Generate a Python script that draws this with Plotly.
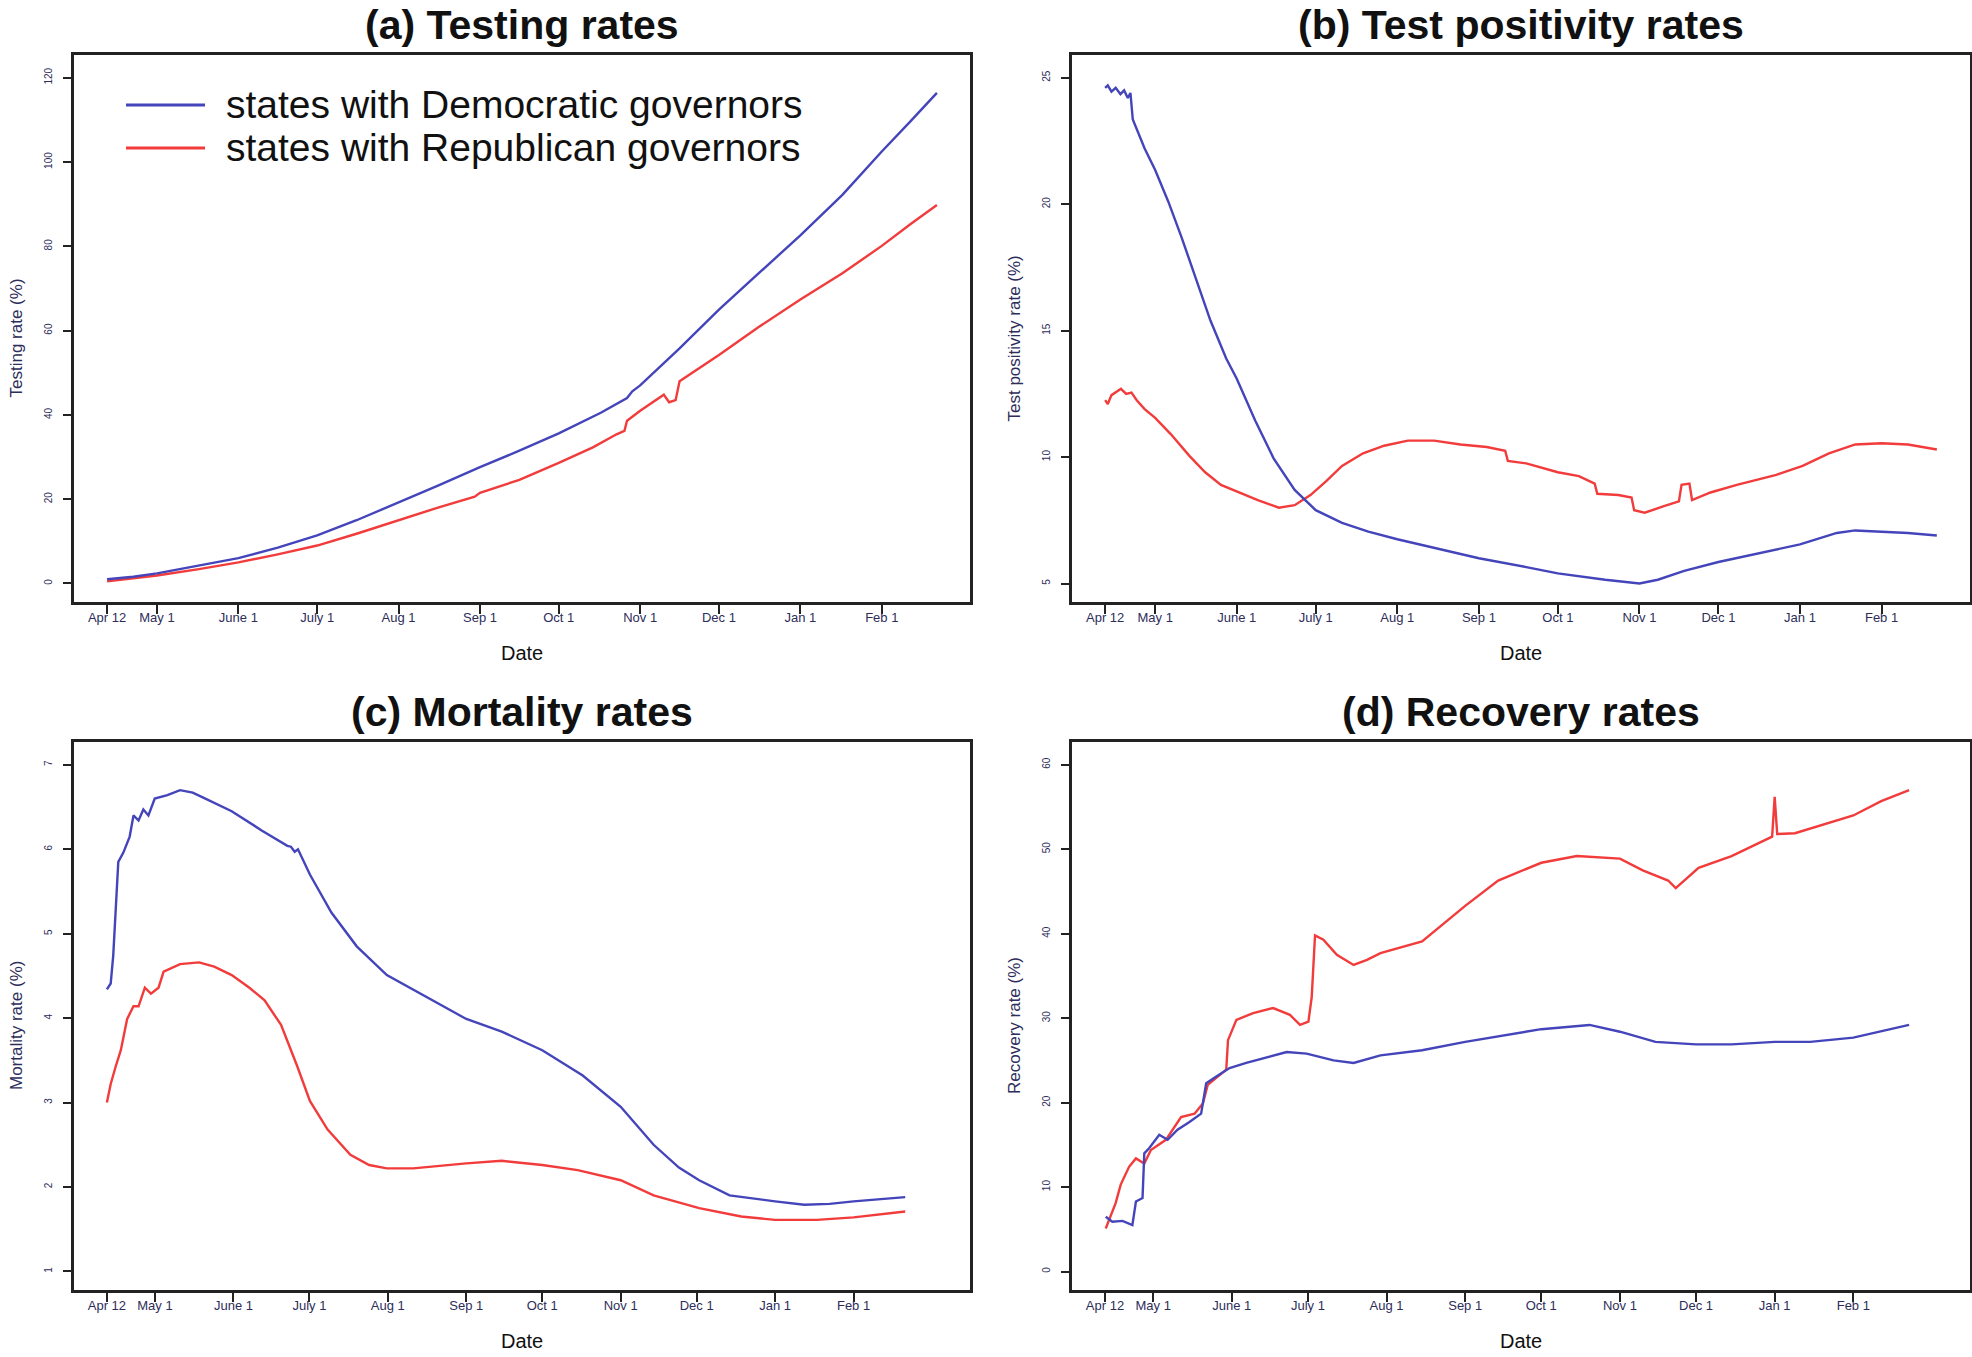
import pandas as pd
import plotly.graph_objects as go

BASE = pd.Timestamp("2020-04-12")

tick_dates = ["2020-04-12", "2020-05-01", "2020-06-01", "2020-07-01", "2020-08-01",
              "2020-09-01", "2020-10-01", "2020-11-01", "2020-12-01", "2021-01-01", "2021-02-01"]
tick_text = ["Apr 12", "May 1", "June 1", "July 1", "Aug 1", "Sep 1", "Oct 1",
             "Nov 1", "Dec 1", "Jan 1", "Feb 1"]

# ---- (a) Testing rate (%) : days since Apr 12, 2020 ----
a_dem_day = [0, 10, 19, 35, 50, 65, 80, 95, 111, 126, 142, 157, 172, 188, 198, 200, 203,
             218, 233, 248, 264, 280, 295, 306, 316]
a_dem_val = [1.0, 1.6, 2.4, 4.2, 6.0, 8.5, 11.4, 15.0, 19.2, 23.2, 27.6, 31.5, 35.6, 40.5,
             44.0, 45.6, 47.0, 55.8, 65.0, 73.5, 82.6, 92.2, 102.5, 109.7, 116.4]
a_rep_day = [0, 10, 19, 35, 50, 65, 80, 95, 111, 126, 140, 142, 157, 172, 185, 194, 197, 198,
             203, 212, 214, 216.5, 218, 224, 233, 248, 264, 280, 295, 306, 316]
a_rep_val = [0.5, 1.2, 1.9, 3.4, 5.0, 6.9, 9.0, 11.8, 15.0, 18.0, 20.6, 21.5, 24.6, 28.6,
             32.3, 35.4, 36.2, 38.6, 41.0, 44.8, 43.0, 43.5, 48.0, 50.5, 54.2, 60.8, 67.4,
             73.6, 80.1, 85.3, 89.8]
a_yticks = [0, 20, 40, 60, 80, 100, 120]

# ---- (b) Test positivity rate (%) ----
b_dem_day = [0, 1, 2.4, 4, 5.8, 7.2, 8.6, 9.6, 10.5, 12.5, 15, 19, 24, 29, 34, 40, 46, 50,
             57, 64, 72, 80, 90, 100, 111, 125, 142, 160, 172, 190, 203, 210, 220, 233,
             250, 264, 278, 285, 295, 305, 316]
b_dem_val = [24.6, 24.7, 24.45, 24.6, 24.35, 24.5, 24.2, 24.4, 23.35, 22.85, 22.2, 21.35,
             20.1, 18.7, 17.2, 15.4, 13.9, 13.1, 11.45, 9.95, 8.7, 7.9, 7.4, 7.05, 6.75, 6.4,
             6.0, 5.65, 5.4, 5.15, 5.0, 5.15, 5.5, 5.85, 6.25, 6.55, 7.0, 7.1, 7.05, 7.0, 6.9]
b_rep_day = [0, 1, 2.4, 4, 6, 8, 10, 12, 15, 19, 25, 32, 38, 44, 50, 58, 66, 72, 78, 84, 90,
             98, 106, 115, 125, 135, 145, 152, 153, 160, 172, 180, 186, 187, 195, 200, 201,
             205, 212, 218, 219, 222, 223, 230, 240, 255, 265, 275, 285, 295, 305, 316]
b_rep_val = [12.25, 12.1, 12.45, 12.55, 12.7, 12.5, 12.55, 12.25, 11.9, 11.55, 10.9, 10.05,
             9.4, 8.9, 8.65, 8.3, 8.0, 8.1, 8.5, 9.05, 9.65, 10.15, 10.45, 10.65, 10.65,
             10.5, 10.4, 10.25, 9.85, 9.75, 9.4, 9.25, 8.95, 8.55, 8.5, 8.4, 7.9, 7.8, 8.05,
             8.25, 8.9, 8.95, 8.3, 8.6, 8.9, 9.3, 9.65, 10.15, 10.5, 10.55, 10.5, 10.3]
b_yticks = [5, 10, 15, 20, 25]

# ---- (c) Mortality rate (%) ----
c_dem_day = [0, 1.5, 2.5, 3.5, 4.5, 6.5, 9.0, 10.5, 12.5, 14.4, 16.4, 18.9, 23.9, 28.9,
             33.9, 38.9, 49.3, 61.3, 71.3, 72.7, 74.2, 75.5, 80.2, 88.7, 98.7, 110.6, 126,
             142, 156, 172, 188, 203, 216, 226, 234, 246, 264, 275.5, 285.5, 295, 315.4]
c_dem_val = [4.34, 4.41, 4.74, 5.33, 5.85, 5.96, 6.15, 6.40, 6.34, 6.47, 6.40, 6.60, 6.64,
             6.70, 6.67, 6.60, 6.45, 6.22, 6.04, 6.03, 5.97, 6.0, 5.70, 5.25, 4.85, 4.51,
             4.25, 3.99, 3.84, 3.62, 3.32, 2.95, 2.50, 2.23, 2.08, 1.90, 1.83, 1.79, 1.80,
             1.83, 1.88]
c_rep_day = [0, 1.5, 3.5, 5.5, 8.0, 10.5, 12.5, 15, 17.4, 20.4, 22.4, 28.9, 36.4, 42.4, 49.3,
             56.3, 62.3, 68.8, 75.2, 80.2, 87.2, 96.2, 103.6, 110.6, 121, 142, 156, 172, 186,
             203, 216, 234, 250.6, 264, 280.5, 295, 315.4]
c_rep_val = [3.0, 3.22, 3.43, 3.62, 3.99, 4.14, 4.14, 4.36, 4.29, 4.36, 4.55, 4.64, 4.66,
             4.61, 4.51, 4.36, 4.21, 3.92, 3.43, 3.02, 2.68, 2.38, 2.26, 2.22, 2.22, 2.28,
             2.31, 2.26, 2.20, 2.08, 1.90, 1.75, 1.65, 1.61, 1.61, 1.64, 1.71]
c_yticks = [1, 2, 3, 4, 5, 6, 7]

# ---- (d) Recovery rate (%) ----
d_dem_day = [0.3, 2.9, 6.9, 10.8, 12.2, 14.8, 15.5, 17.4, 21.4, 24.7, 28.6, 33.3, 37.9, 39.9,
             43.9, 49.1, 55.7, 63.7, 71.6, 79.5, 90.1, 98, 108.6, 125, 142, 172, 191, 203,
             217, 233, 247, 264, 278, 295, 317]
d_dem_val = [6.5, 5.9, 6.0, 5.5, 8.3, 8.7, 14.0, 14.6, 16.2, 15.6, 16.8, 17.7, 18.7, 22.3,
             23.1, 24.1, 24.7, 25.4, 26.0, 25.8, 25.0, 24.7, 25.6, 26.2, 27.2, 28.7, 29.2,
             28.4, 27.2, 26.9, 26.9, 27.2, 27.2, 27.7, 29.2]
d_rep_day = [0.3, 4.2, 6.2, 9.5, 12.2, 15.5, 18.1, 24.0, 30.0, 35.3, 38.6, 40.5, 47.8, 48.5,
             51.8, 58.4, 66.3, 72.9, 76.9, 80.2, 81.5, 82.8, 86.1, 91.4, 98.0, 103.3, 108.6,
             125, 142, 155, 172, 186, 203, 212, 222, 225, 234, 247, 263, 264, 265, 272, 295,
             306, 317]
d_rep_val = [5.1, 8.1, 10.3, 12.4, 13.4, 12.8, 14.4, 15.6, 18.3, 18.7, 19.9, 22.1, 23.9,
             27.4, 29.8, 30.6, 31.2, 30.4, 29.2, 29.6, 32.5, 39.8, 39.3, 37.5, 36.3, 36.9,
             37.7, 39.1, 43.3, 46.3, 48.4, 49.2, 48.9, 47.5, 46.3, 45.4, 47.8, 49.2, 51.5,
             56.2, 51.8, 51.9, 54.0, 55.7, 57.0]
d_yticks = [0, 10, 20, 30, 40, 50, 60]

DEM_NAME = "states with Democratic governors"
REP_NAME = "states with Republican governors"
BLUE = "#4444bb"
RED = "#f23b3b"

W, H = 1972, 1357


def to_dates(days):
    return [BASE + pd.Timedelta(days=d) for d in days]


def day_str(d):
    return (BASE + pd.Timedelta(days=d)).strftime("%Y-%m-%d %H:%M:%S")


def px_x(v):
    return v / W


def px_y(v):
    return 1 - v / H


panels = [
    dict(title="(a) Testing rates", ytitle="Testing rate (%)",
         dem=(a_dem_day, a_dem_val), rep=(a_rep_day, a_rep_val), yticks=a_yticks,
         yrange=[-4.4, 125.4], xrange=(-12.6, 328.6), box=(74, 970, 55, 602)),
    dict(title="(b) Test positivity rates", ytitle="Test positivity rate (%)",
         dem=(b_dem_day, b_dem_val), rep=(b_rep_day, b_rep_val), yticks=b_yticks,
         yrange=[4.27, 25.9], xrange=(-12.6, 328.6), box=(1072, 1970, 55, 602)),
    dict(title="(c) Mortality rates", ytitle="Mortality rate (%)",
         dem=(c_dem_day, c_dem_val), rep=(c_rep_day, c_rep_val), yticks=c_yticks,
         yrange=[0.78, 7.27], xrange=(-13, 341), box=(74, 970, 742, 1290)),
    dict(title="(d) Recovery rates", ytitle="Recovery rate (%)",
         dem=(d_dem_day, d_dem_val), rep=(d_rep_day, d_rep_val), yticks=d_yticks,
         yrange=[-2.18, 62.7], xrange=(-13, 341), box=(1072, 1970, 742, 1290)),
]

FONT = "Liberation Sans, Arial, sans-serif"
fig = go.Figure()
annotations = []
shapes = []

for i, p in enumerate(panels):
    n = "" if i == 0 else str(i + 1)
    l, r, t, b = p["box"]
    fig.add_trace(go.Scatter(x=to_dates(p["rep"][0]), y=p["rep"][1], mode="lines",
                             line=dict(color=RED, width=2.4), name=REP_NAME,
                             showlegend=False, xaxis="x" + n, yaxis="y" + n))
    fig.add_trace(go.Scatter(x=to_dates(p["dem"][0]), y=p["dem"][1], mode="lines",
                             line=dict(color=BLUE, width=2.4), name=DEM_NAME,
                             showlegend=False, xaxis="x" + n, yaxis="y" + n))
    fig.layout["xaxis" + n] = dict(
        domain=[px_x(l), px_x(r)], anchor="y" + n, type="date",
        range=[day_str(p["xrange"][0]), day_str(p["xrange"][1])],
        tickvals=tick_dates, ticktext=tick_text, ticks="outside", ticklen=9,
        tickwidth=2, tickcolor="#222", showline=True, linecolor="#222", linewidth=2.5,
        mirror=True, showgrid=False, zeroline=False, ticklabelstandoff=-7,
        tickfont=dict(family=FONT, size=13, color="#2d2d5a"))
    fig.layout["yaxis" + n] = dict(
        domain=[px_y(b), px_y(t)], anchor="x" + n, range=p["yrange"],
        tickvals=p["yticks"], ticks="outside", ticklen=8, tickwidth=2, tickcolor="#222",
        showline=True, linecolor="#222", linewidth=2.5, mirror=True, showgrid=False,
        zeroline=False, tickangle=-90, ticklabelstandoff=7,
        tickfont=dict(family=FONT, size=10, color="#2d2d5a"))
    cx = (l + r) / 2
    annotations.append(dict(text="<b>" + p["title"] + "</b>", x=px_x(cx), y=px_y(t - 30),
                            xref="paper", yref="paper", showarrow=False, xanchor="center",
                            yanchor="middle", font=dict(family=FONT, size=41, color="#111")))
    annotations.append(dict(text="Date", x=px_x(cx), y=px_y(b + 51), xref="paper",
                            yref="paper", showarrow=False, xanchor="center", yanchor="middle",
                            font=dict(family=FONT, size=20, color="#111")))
    annotations.append(dict(text=p["ytitle"], x=px_x(l - 58), y=px_y((t + b) / 2 + 10),
                            xref="paper", yref="paper", showarrow=False, textangle=-90,
                            xanchor="center", yanchor="middle",
                            font=dict(family=FONT, size=17, color="#2d2d5a")))

# legend inside panel (a)
for name, col, ly in [(DEM_NAME, BLUE, 105), (REP_NAME, RED, 148)]:
    shapes.append(dict(type="line", xref="paper", yref="paper", x0=px_x(126), x1=px_x(205),
                       y0=px_y(ly), y1=px_y(ly), line=dict(color=col, width=3)))
    annotations.append(dict(text=name, x=px_x(224), y=px_y(ly), xref="paper", yref="paper",
                            showarrow=False, xanchor="left", yanchor="middle",
                            font=dict(family=FONT, size=39, color="#111")))

fig.update_layout(width=W, height=H, autosize=False, margin=dict(l=0, r=0, t=0, b=0),
                  paper_bgcolor="white", plot_bgcolor="white", showlegend=False,
                  annotations=annotations, shapes=shapes, font=dict(family=FONT))

fig.write_html("out.html", config={"displayModeBar": False},
               post_script="document.body.style.margin='0';document.body.style.overflow='hidden';")
